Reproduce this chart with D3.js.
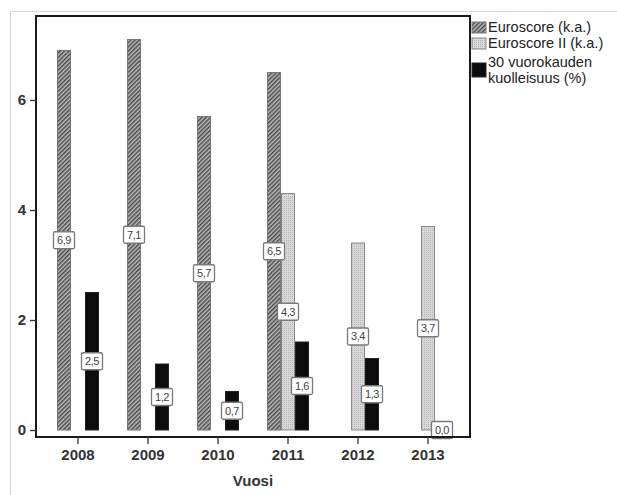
<!DOCTYPE html>
<html><head><meta charset="utf-8">
<script src="https://cdn.jsdelivr.net/npm/d3@7"></script>
<style>body{margin:0;background:#fff;}svg{display:block;font-family:"Liberation Sans",Arial,sans-serif;}</style>
</head><body><svg id="c" width="617" height="495"></svg>
<script>
const years = ["2008","2009","2010","2011","2012","2013"];
const seriesNames = ["Euroscore (k.a.)","Euroscore II (k.a.)","30 vuorokauden kuolleisuus (%)"];
const euroscore = [6.9, 7.1, 5.7, 6.5, null, null];
const euroscore2 = [null, null, null, 4.3, 3.4, 3.7];
const mortality = [2.5, 1.2, 0.7, 1.6, 1.3, 0.0];
const yTicks = [0,2,4,6];
const xTitle = "Vuosi";

const svg = d3.select("#c");
const defs = svg.append("defs");
const hp = defs.append("pattern").attr("id","hatch").attr("patternUnits","userSpaceOnUse")
  .attr("width",3).attr("height",3).attr("patternTransform","rotate(45)");
hp.append("rect").attr("width",3).attr("height",3).attr("fill","#bdbdbd");
hp.append("rect").attr("width",1.5).attr("height",3).attr("fill","#4a4a4a");
const dp = defs.append("pattern").attr("id","dots").attr("patternUnits","userSpaceOnUse")
  .attr("width",2).attr("height",2);
dp.append("rect").attr("width",2).attr("height",2).attr("fill","#d8d8d8");
dp.append("rect").attr("width",1).attr("height",1).attr("fill","#b8b8b8");

const fills = ["url(#hatch)","url(#dots)","#0c0c0c"];
const strokes = ["#777","#8a8a8a","#222"];

// outer light frame
svg.append("line").attr("x1",10).attr("x2",617).attr("y1",11.5).attr("y2",11.5).attr("stroke","#d8d8d8");
svg.append("line").attr("x1",10.5).attr("x2",10.5).attr("y1",11).attr("y2",495).attr("stroke","#d8d8d8");

const x = d3.scaleBand().domain(years).range([43,463]).paddingInner(0.4).paddingOuter(0.2);
const xs = d3.scaleBand().domain([0,1,2]).range([0,x.bandwidth()]);
const y = d3.scaleLinear().domain([0,7.5]).range([430,17.5]);

const data = [];
years.forEach((yr,i)=>{
  [euroscore,euroscore2,mortality].forEach((arr,s)=>{
    if(arr[i]!==null) data.push({yr, s, v:arr[i]});
  });
});

const g = svg.append("g");
g.selectAll("rect.bar").data(data).join("rect").attr("class","bar")
  .attr("x",d=>x(d.yr)+xs(d.s)+0.5).attr("width",xs.bandwidth()-1)
  .attr("y",d=>y(d.v)).attr("height",d=>y(0)-y(d.v))
  .attr("fill",d=>fills[d.s]).attr("stroke",d=>strokes[d.s]).attr("stroke-width",1);

// value labels
const lab = g.selectAll("g.lab").data(data).join("g").attr("class","lab")
  .attr("transform",d=>`translate(${x(d.yr)+xs(d.s)+xs.bandwidth()/2},${y(d.v/2)})`);
lab.append("rect").attr("x",-10.5).attr("y",-8.5).attr("width",21).attr("height",17)
  .attr("rx",1.5).attr("fill","#fff").attr("stroke","#7a7a7a").attr("stroke-width",1.3);
lab.append("text").attr("text-anchor","middle").attr("dy","0.36em").attr("font-size",11)
  .attr("fill","#444").attr("letter-spacing","-0.5").text(d=>d.v.toFixed(1).replace(".",","));

// frame
svg.append("rect").attr("x",36).attr("y",16).attr("width",434).attr("height",421)
  .attr("fill","none").attr("stroke","#1a1a1a").attr("stroke-width",2);

// y axis
const ya = svg.append("g").attr("transform","translate(36,0)")
  .call(d3.axisLeft(y).tickValues(yTicks).tickSize(6).tickPadding(4).tickFormat(d3.format("d")));
ya.select(".domain").remove();
ya.selectAll("line").attr("stroke","#333").attr("stroke-width",1.3);
ya.selectAll("text").attr("font-size",15).attr("font-weight","bold").attr("fill","#333")
  .attr("font-family","Liberation Sans, Arial, sans-serif");

// x axis
const xa = svg.append("g").attr("transform","translate(0,437)")
  .call(d3.axisBottom(x).tickSize(7).tickPadding(5));
xa.select(".domain").remove();
xa.selectAll("line").attr("stroke","#333").attr("stroke-width",1.3);
xa.selectAll("text").attr("font-size",15).attr("font-weight","bold").attr("fill","#333")
  .attr("font-family","Liberation Sans, Arial, sans-serif");

svg.append("text").attr("x",253).attr("y",486).attr("text-anchor","middle")
  .attr("font-size",15).attr("font-weight","bold").attr("fill","#333").text(xTitle);

// legend
const leg = svg.append("g");
const legItems = [
  {s:0, y:22, h:11, lines:["Euroscore (k.a.)"], ty:[27]},
  {s:1, y:38, h:11, lines:["Euroscore II (k.a.)"], ty:[43]},
  {s:2, y:63, h:14, lines:["30 vuorokauden","kuolleisuus (%)"], ty:[62,78]}
];
legItems.forEach(it=>{
  leg.append("rect").attr("x",472).attr("y",it.y).attr("width",14).attr("height",it.h)
    .attr("fill",fills[it.s]).attr("stroke",strokes[it.s]);
  it.lines.forEach((t,k)=>{
    leg.append("text").attr("x",488).attr("y",it.ty[k]).attr("dy","0.35em")
      .attr("font-size",14.5).attr("fill","#222").text(t);
  });
});
</script></body></html>
